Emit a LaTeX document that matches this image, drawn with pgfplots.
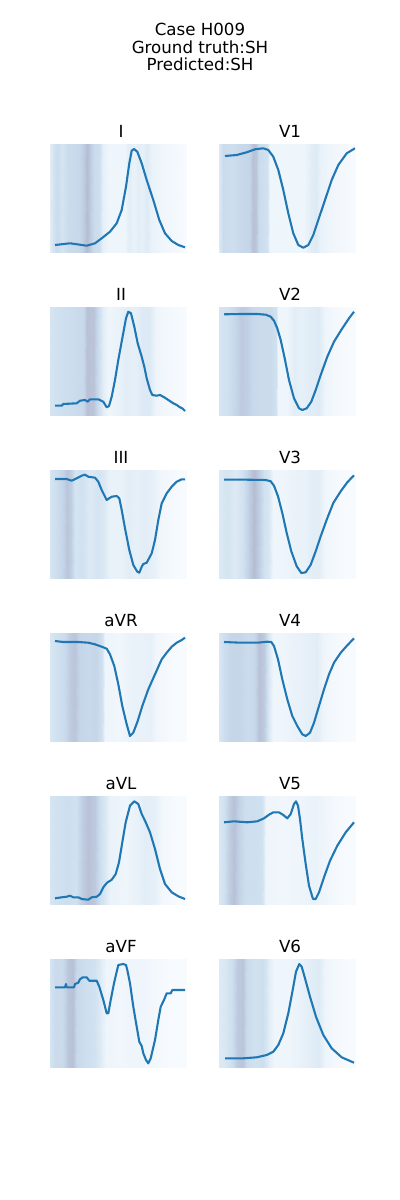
\documentclass[border=0pt]{standalone}
\usepackage{pgfplots}
\usepackage{pgfplotstable}
\pgfplotsset{compat=1.18}
\usepackage{fontspec}
\setmainfont{DejaVu Sans}
\definecolor{mplblue}{HTML}{1F77B4}

\pgfplotsset{panel/.style={scale only axis, width=97.92pt, height=77.76pt,
  xmin=0, xmax=136, ymin=0, ymax=108, y dir=reverse, hide axis,
  anchor=north west,
  colormap={bgmap}{rgb255=(250,252,255) rgb255=(230,240,248) rgb255=(208,225,240) rgb255=(195,211,231) rgb255=(182,188,210)},
  point meta min=0, point meta max=1,
  every axis title shift=0pt,
  title style={anchor=base, at={(0.5,1)}, yshift=5pt, xshift=2.16pt, font=\fontsize{12}{14}\selectfont}},
  bg/.style={surf, shader=interp, mesh/rows=2, point meta=explicit},
  ecg/.style={mplblue, line width=1.5pt, line join=round}}

% background weights: x, row y (0 and 108), value
\pgfplotstableread{
x y c
0 0 .30
3 0 .45
7 0 .60
12 0 .45
18 0 .60
28 0 .65
33 0 .80
37 0 1.0
40 0 .85
44 0 .60
49 0 .55
53 0 .25
58 0 .15
75 0 .15
79 0 .30
84 0 .20
88 0 .30
92 0 .25
97 0 .35
102 0 .20
115 0 .12
125 0 .08
136 0 .03
0 108 .30
3 108 .45
7 108 .60
12 108 .45
18 108 .60
28 108 .65
33 108 .80
37 108 1.0
40 108 .85
44 108 .60
49 108 .55
53 108 .25
58 108 .15
75 108 .15
79 108 .30
84 108 .20
88 108 .30
92 108 .25
97 108 .35
102 108 .20
115 108 .12
125 108 .08
136 108 .03
}\bgI

\pgfplotstableread{
x y c
0 0 .35
4 0 .60
14 0 .55
22 0 .65
30 0 .70
34 0 .95
37 0 .90
40 0 .60
48 0 .50
51 0 .15
70 0 .15
85 0 .15
92 0 .30
97 0 .35
102 0 .20
115 0 .12
136 0 .03
0 108 .35
4 108 .60
14 108 .55
22 108 .65
30 108 .70
34 108 .95
37 108 .90
40 108 .60
48 108 .50
51 108 .15
70 108 .15
85 108 .15
92 108 .30
97 108 .35
102 108 .20
115 108 .12
136 108 .03
}\bgVa

\pgfplotstableread{
x y c
0 0 .45
6 0 .50
15 0 .55
25 0 .60
33 0 .65
37 0 .95
44 0 .90
48 0 .60
53 0 .30
58 0 .15
68 0 .20
75 0 .30
85 0 .25
92 0 .35
100 0 .35
106 0 .15
120 0 .08
136 0 .03
0 108 .45
6 108 .50
15 108 .55
25 108 .60
33 108 .65
37 108 .95
44 108 .90
48 108 .60
53 108 .30
58 108 .15
68 108 .20
75 108 .30
85 108 .25
92 108 .35
100 108 .35
106 108 .15
120 108 .08
136 108 .03
}\bgII

\pgfplotstableread{
x y c
0 0 .45
8 0 .50
15 0 .65
22 0 .85
28 0 .80
34 0 .65
42 0 .60
52 0 .60
57 0 .50
59 0 .15
68 0 .15
75 0 .30
82 0 .25
90 0 .30
100 0 .35
106 0 .15
120 0 .06
136 0 .02
0 108 .45
8 108 .50
15 108 .65
22 108 .85
28 108 .80
34 108 .65
42 108 .60
52 108 .60
57 108 .50
59 108 .15
68 108 .15
75 108 .30
82 108 .25
90 108 .30
100 108 .35
106 108 .15
120 108 .06
136 108 .02
}\bgVb

\pgfplotstableread{
x y c
0 0 .45
6 0 .55
12 0 .70
17 0 .90
21 0 .80
25 0 .45
32 0 .50
40 0 .35
48 0 .45
55 0 .35
60 0 .20
70 0 .20
78 0 .30
86 0 .25
95 0 .30
103 0 .25
110 0 .12
122 0 .06
136 0 .02
0 108 .45
6 108 .55
12 108 .70
17 108 .90
21 108 .80
25 108 .45
32 108 .50
40 108 .35
48 108 .45
55 108 .35
60 108 .20
70 108 .20
78 108 .30
86 108 .25
95 108 .30
103 108 .25
110 108 .12
122 108 .06
136 108 .02
}\bgIII

\pgfplotstableread{
x y c
0 0 .35
8 0 .45
16 0 .35
24 0 .50
30 0 .80
35 0 1.0
40 0 .80
45 0 .50
50 0 .40
54 0 .15
65 0 .15
75 0 .20
85 0 .20
93 0 .30
100 0 .30
106 0 .12
120 0 .05
136 0 .02
0 108 .35
8 108 .45
16 108 .35
24 108 .50
30 108 .80
35 108 1.0
40 108 .80
45 108 .50
50 108 .40
54 108 .15
65 108 .15
75 108 .20
85 108 .20
93 108 .30
100 108 .30
106 108 .12
120 108 .05
136 108 .02
}\bgVc

\pgfplotstableread{
x y c
0 0 .40
6 0 .50
14 0 .60
20 0 .85
25 0 .90
30 0 .70
38 0 .65
46 0 .70
52 0 .50
55 0 .15
70 0 .12
80 0 .20
90 0 .20
100 0 .25
106 0 .12
120 0 .05
136 0 .02
0 108 .40
6 108 .50
14 108 .60
20 108 .85
25 108 .90
30 108 .70
38 108 .65
46 108 .70
52 108 .50
55 108 .15
70 108 .12
80 108 .20
90 108 .20
100 108 .25
106 108 .12
120 108 .05
136 108 .02
}\bgaVR

\pgfplotstableread{
x y c
0 0 .40
5 0 .55
12 0 .70
20 0 .70
28 0 .60
35 0 .65
40 0 .95
45 0 .85
49 0 .45
54 0 .15
65 0 .15
75 0 .20
88 0 .25
98 0 .30
104 0 .15
118 0 .06
136 0 .02
0 108 .40
5 108 .55
12 108 .70
20 108 .70
28 108 .60
35 108 .65
40 108 .95
45 108 .85
49 108 .45
54 108 .15
65 108 .15
75 108 .20
88 108 .25
98 108 .30
104 108 .15
118 108 .06
136 108 .02
}\bgVd

\pgfplotstableread{
x y c
0 0 .45
8 0 .50
18 0 .55
26 0 .50
32 0 .80
38 0 .95
45 0 .85
50 0 .55
56 0 .35
60 0 .20
75 0 .15
85 0 .20
95 0 .30
105 0 .25
112 0 .10
125 0 .04
136 0 .02
0 108 .45
8 108 .50
18 108 .55
26 108 .50
32 108 .80
38 108 .95
45 108 .85
50 108 .55
56 108 .35
60 108 .20
75 108 .15
85 108 .20
95 108 .30
105 108 .25
112 108 .10
125 108 .04
136 108 .02
}\bgaVL

\pgfplotstableread{
x y c
0 0 .40
5 0 .50
10 0 .80
15 0 .95
20 0 .75
26 0 .55
35 0 .55
43 0 .50
47 0 .15
65 0 .12
80 0 .15
95 0 .20
105 0 .15
118 0 .06
136 0 .02
0 108 .40
5 108 .50
10 108 .80
15 108 .95
20 108 .75
26 108 .55
35 108 .55
43 108 .50
47 108 .15
65 108 .12
80 108 .15
95 108 .20
105 108 .15
118 108 .06
136 108 .02
}\bgVe

\pgfplotstableread{
x y c
0 0 .45
5 0 .60
12 0 .60
18 0 .90
23 0 .95
27 0 .65
35 0 .55
44 0 .50
50 0 .35
56 0 .15
70 0 .12
85 0 .15
95 0 .15
105 0 .08
120 0 .04
136 0 .02
0 108 .45
5 108 .60
12 108 .60
18 108 .90
23 108 .95
27 108 .65
35 108 .55
44 108 .50
50 108 .35
56 108 .15
70 108 .12
85 108 .15
95 108 .15
105 108 .08
120 108 .04
136 108 .02
}\bgaVF

\pgfplotstableread{
x y c
0 0 .35
6 0 .40
13 0 .55
18 0 .85
24 0 .90
28 0 .60
36 0 .50
44 0 .55
50 0 .30
55 0 .15
70 0 .15
80 0 .20
92 0 .30
100 0 .35
106 0 .15
120 0 .06
136 0 .02
0 108 .35
6 108 .40
13 108 .55
18 108 .85
24 108 .90
28 108 .60
36 108 .50
44 108 .55
50 108 .30
55 108 .15
70 108 .15
80 108 .20
92 108 .30
100 108 .35
106 108 .15
120 108 .06
136 108 .02
}\bgVf

\begin{document}
\begin{tikzpicture}
\path[use as bounding box] (0,0) rectangle (288pt,-864pt);
\node[anchor=base,font=\fontsize{12}{14}\selectfont] at (144pt,-25.92pt) {Case H009};
\node[anchor=base,font=\fontsize{12}{14}\selectfont] at (144pt,-38.52pt) {Ground truth:SH};
\node[anchor=base,font=\fontsize{12}{14}\selectfont] at (144pt,-51.12pt) {Predicted:SH};

% Row 1 (top 144 px)
\begin{axis}[panel, at={(36pt,-103.68pt)}, title={I}]
\addplot[bg] table[x=x,y=y,meta=c] {\bgI};
\addplot[ecg] coordinates {(5,101)(20,99.3)(30,100.7)(36.7,101.7)(45,99.3)(51.7,94.3)(60,87.7)(66.7,79.3)(71.7,66)(76,42.7)(79.3,19.3)(81.7,6.7)(84,5)(87.3,7.7)(91.7,19.3)(96.7,36)(103.3,56)(109.3,76)(115,89.3)(121.7,97)(128.3,101)(135,103.3)};
\end{axis}
\begin{axis}[panel, at={(157.68pt,-103.68pt)}, title={V1}]
\addplot[bg] table[x=x,y=y,meta=c] {\bgVa};
\addplot[ecg] coordinates {(6,12)(17.7,11)(27.7,8.3)(36,5.3)(44.3,4.3)(49.3,6)(54.3,12.7)(59.3,26)(64.3,46)(69.3,69.3)(74.3,89.3)(79.3,101)(84.3,103.7)(89.3,101)(94.3,91)(99.3,76)(106,56)(112.7,36)(119.3,21)(127.7,9.3)(136,4.3)};
\end{axis}

% Row 2 (top 307 px)
\begin{axis}[panel, at={(36pt,-221.04pt)}, title={II}]
\addplot[bg] table[x=x,y=y,meta=c] {\bgII};
\addplot[ecg] coordinates {(5,98.7)(11.7,98.7)(13.3,97)(26.7,96.3)(30,93.7)(35,93)(37.7,94.7)(40,92.3)(48.3,92.3)(53.3,94.7)(56.7,100.3)(59,99)(61.7,89.7)(65,73)(68.3,53)(72.3,31.3)(76,11.3)(78.3,4.7)(81,6.3)(84.3,19.7)(87.7,36.3)(91.7,49.7)(94.3,59.7)(96.7,71.3)(100,83)(102.3,88)(106.7,88.7)(110,88)(114.3,90.3)(118.3,93)(123.3,96.3)(126.7,98)(130,100.3)(132.3,101.3)(135,104)};
\end{axis}
\begin{axis}[panel, at={(157.68pt,-221.04pt)}, title={V2}]
\addplot[bg] table[x=x,y=y,meta=c] {\bgVb};
\addplot[ecg] coordinates {(5,7.3)(21.7,7)(38.3,7)(46.7,7.7)(51.7,9.7)(55,13.7)(58.3,21.3)(61.7,33)(65.7,51.3)(70,73)(75,91.3)(80,101.3)(83.3,103)(87.7,101.3)(92.3,94.7)(96.7,83)(101.7,68)(108.3,49.7)(115,34.7)(123.3,21.3)(130,11.3)(135,4.7)};
\end{axis}

% Row 3 (top 470 px)
\begin{axis}[panel, at={(36pt,-338.4pt)}, title={III}]
\addplot[bg] table[x=x,y=y,meta=c] {\bgIII};
\addplot[ecg] coordinates {(5,9)(16.7,9)(21.7,10.7)(26.7,8.3)(31.7,5.7)(35,4.7)(38.3,6.7)(45,7.7)(48.3,11.7)(51.7,20)(56.7,30)(61.7,26.7)(66.7,26)(69.3,28.3)(71.7,40)(75,58.3)(79.3,80)(83.3,95)(87.3,101.7)(89.3,102.7)(91.7,96.7)(93.3,94)(96.7,92.7)(101.7,83.3)(105,70)(108.3,50)(111.7,33.3)(116.7,23.3)(121.7,16.7)(126.7,11.7)(131.7,9.3)(135,9.3)};
\end{axis}
\begin{axis}[panel, at={(157.68pt,-338.4pt)}, title={V3}]
\addplot[bg] table[x=x,y=y,meta=c] {\bgVc};
\addplot[ecg] coordinates {(5,9.7)(28.3,9.7)(46.7,10)(51.7,11.3)(55,15.7)(59,26.3)(63.3,43)(67.7,63)(72.3,81.3)(77.7,96.3)(82.3,103)(86.7,102.3)(91.7,94.7)(96.7,81.3)(101.7,66.3)(107.7,49.7)(114.3,33)(121.7,21.3)(128.3,12.3)(135,5.3)};
\end{axis}

% Row 4 (top 633 px)
\begin{axis}[panel, at={(36pt,-455.76pt)}, title={aVR}]
\addplot[bg] table[x=x,y=y,meta=c] {\bgaVR};
\addplot[ecg] coordinates {(5,8)(13.3,9)(28.3,9)(38.3,9.7)(45,11.3)(51.7,13.7)(56.7,15.7)(60,21.3)(64.3,33)(68.3,51.3)(72.3,73)(76.7,91.3)(80,103)(83.3,99.7)(87.7,88)(92.3,73)(98.3,56.3)(105,41.3)(111.7,26.3)(116.7,19.7)(121.7,13.7)(126.7,9.7)(131.7,7)(135,4.7)};
\end{axis}
\begin{axis}[panel, at={(157.68pt,-455.76pt)}, title={V4}]
\addplot[bg] table[x=x,y=y,meta=c] {\bgVd};
\addplot[ecg] coordinates {(5,9)(21.7,9.7)(38.3,9.7)(48.3,8.7)(52.3,9)(55,13)(59,26.3)(63.3,46.3)(68.3,66.3)(73.3,83)(78.3,93)(83.3,101.3)(86.7,103)(91,99.7)(95,89.7)(100,73)(105,56.3)(110,41.3)(115,29.7)(121.7,19.7)(128.3,12.3)(135,5.3)};
\end{axis}

% Row 5 (top 796 px)
\begin{axis}[panel, at={(36pt,-573.12pt)}, title={aVL}]
\addplot[bg] table[x=x,y=y,meta=c] {\bgaVL};
\addplot[ecg] coordinates {(5,102.3)(11.7,101.3)(16.7,100.7)(20,99.7)(23.3,101.3)(28.3,101.3)(31.7,103)(38.3,103.7)(41.7,101.3)(46.7,100.7)(50,98)(53.3,91.3)(56.7,87)(61.7,83.7)(65.7,78)(69,66.3)(72.3,46.3)(75.7,26.3)(80,9.7)(84.3,5.3)(88.3,8)(91.7,18)(95,24.7)(100,36.3)(105,53)(110,73)(115,88)(121.7,96.3)(128.3,100.3)(135,103)};
\end{axis}
\begin{axis}[panel, at={(157.68pt,-573.12pt)}, title={V5}]
\addplot[bg] table[x=x,y=y,meta=c] {\bgVe};
\addplot[ecg] coordinates {(5,26.3)(15,25.3)(28.3,26.3)(38.3,25.3)(45,22.3)(50,18.7)(54.3,16.3)(60,16.3)(64.3,19)(68.3,22.3)(71.7,18)(75,8)(77,5.3)(79,9.7)(81,23)(83.3,43)(86.7,68)(90,89.7)(94,103)(96.7,103)(100,96.3)(105,81.3)(111,64.7)(118.3,49.7)(126.7,36.3)(135,26.3)};
\end{axis}

% Row 6 (top 959 px)
\begin{axis}[panel, at={(36pt,-690.48pt)}, title={aVF}]
\addplot[bg] table[x=x,y=y,meta=c] {\bgaVF};
\addplot[ecg] coordinates {(5,28.3)(15,28.3)(16,25)(16.7,28.3)(24,28.3)(25,25)(28.3,23.7)(30,20.3)(32.7,18.3)(36.7,18.3)(39.3,21.7)(46.7,21.7)(49.3,27.7)(53.3,41)(56.7,54.3)(58.3,54.3)(60.7,41)(64,24.3)(68.3,6)(73.3,5)(76,6)(77.3,11)(80,24.3)(83.3,47.7)(86.7,67.7)(89.3,82.7)(91.7,87)(93.3,94.3)(96,101)(98.3,104.3)(100.7,99.3)(105,81)(108.3,61)(110.7,47.7)(114,41)(116.7,34.3)(120.7,34.3)(122.3,31)(135,31)};
\end{axis}
\begin{axis}[panel, at={(157.68pt,-690.48pt)}, title={V6}]
\addplot[bg] table[x=x,y=y,meta=c] {\bgVf};
\addplot[ecg] coordinates {(6,99.3)(24.3,99.3)(37.7,98.3)(47.7,96)(54.3,92.7)(59.3,86)(64.3,74.3)(69.3,54.3)(73.7,31)(77,12.7)(80.3,5)(82.7,7.7)(86,19.3)(91,37.7)(97,57.7)(104.3,76)(112.7,89.3)(122.7,98.3)(135,103.7)};
\end{axis}
\end{tikzpicture}
\end{document}
